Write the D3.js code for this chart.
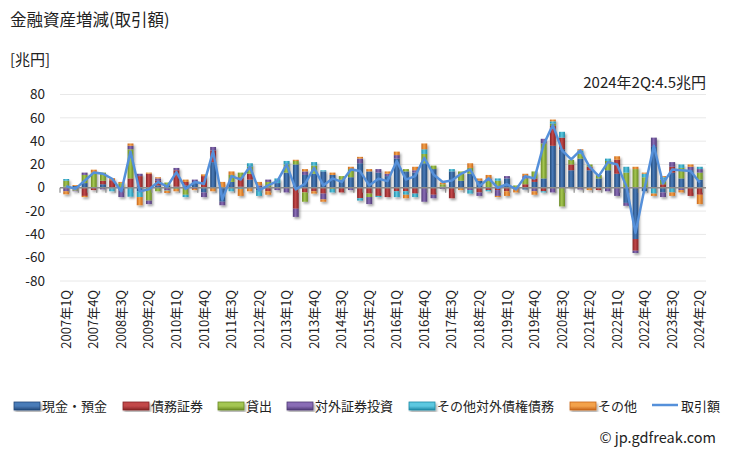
<!DOCTYPE html>
<html>
<head>
<meta charset="utf-8">
<script src="https://d3js.org/d3.v7.min.js"></script>
<style>
  body { margin: 0; background: #fff; }
  svg { font-family: "Noto Sans CJK JP", sans-serif; }
</style>
</head>
<body>
<svg id="chart"></svg>
<script>
const quarters = [
  "2007年1Q","2007年2Q","2007年3Q","2007年4Q","2008年1Q","2008年2Q","2008年3Q","2008年4Q",
  "2009年1Q","2009年2Q","2009年3Q","2009年4Q","2010年1Q","2010年2Q","2010年3Q","2010年4Q",
  "2011年1Q","2011年2Q","2011年3Q","2011年4Q","2012年1Q","2012年2Q","2012年3Q","2012年4Q",
  "2013年1Q","2013年2Q","2013年3Q","2013年4Q","2014年1Q","2014年2Q","2014年3Q","2014年4Q",
  "2015年1Q","2015年2Q","2015年3Q","2015年4Q","2016年1Q","2016年2Q","2016年3Q","2016年4Q",
  "2017年1Q","2017年2Q","2017年3Q","2017年4Q","2018年1Q","2018年2Q","2018年3Q","2018年4Q",
  "2019年1Q","2019年2Q","2019年3Q","2019年4Q","2020年1Q","2020年2Q","2020年3Q","2020年4Q",
  "2021年1Q","2021年2Q","2021年3Q","2021年4Q","2022年1Q","2022年2Q","2022年3Q","2022年4Q",
  "2023年1Q","2023年2Q","2023年3Q","2023年4Q","2024年1Q","2024年2Q"
];

// 兆円
const cash = [1,1.5,4,0,3,0,-2,0, -3,0,2,1.5,1,2,4,-4, 22,-12,5,1,7,-2,0,4,
  13,20,11,12,14,11,7,9, 21,14,13,10,25,14,13,21, 16,1,14,6,12,6,0,0,
  8,0,-1.5,5,8,36,33,15, 25,15,8,15,12,-13,-44,-3, 35,-4,13,8,15,7];
const debt = [0,-1.5,-7,-2,3,6.5,0,8, 10,12,4,0,14,3,-1,10, 10,0,0,8,5,0,-3,0,
  0,-18,-4,-3,-5,0,-4,0, -9,-5,-7,-8,-3,-3,-5,0, -6,0,-9,0,0,-4,-2,-2,
  -3,0,3,3,-3,17,10,5, 0,3,-2,0,12,0,-10,0, 0,3,5,0,-7,-6];
const loans = [5,-1,7,13,7,0,4,25, 0,-11,-3,3,-1,-6,0,0, 0,0,6,4,6,0,5,0,
  7,3,-8,7,0,-1,3,7, 0,-3,0,0,0,2,0,8, 3,2,0,8,5,0,6,6,
  0,2,5,6,30,2,-16,4, 4,2,3,8,0,13,16,9, 0,4,0,9,0,6];
const foreignSec = [-3,-0.5,2,0,-1.4,-0.5,-6,3, 2,-3,2,-2,2,0,3,-4, 3,-3,0,0,0,2,2,-2,
  -4,-7,3,0,-5,0,0,-2, 4,-6,3,2,3,0,2,-12, -3,-1,0,0,-2,-3,2,-5,
  2,-1,2,-3,4,-4,0,0, -1.5,0,0,-3,-7,-2.5,-2,0, 8,-4,4,-2,3,3];
const otherForeign = [1.5,0,0,0,0,-2.5,0,-7.7, -5,0,0,-0.5,0,-2,0,0, 0,0,-3,-1,3,-5,0,4,
  3,0,0,3,1,-3,0,0, -2,0,-1,0,-5,-3,-3,4, 0,0,2,0,-3,0,-1,2,
  0,0,0,0,-1,2,5,0, 3,0,0,2,0,5,0,3, -5,2,-4,3,0,2];
const other = [-2.6,0.8,-1,2.5,0,1.7,1,2, -7,1,1,-2,-2,2,-1,1.5, -3,5,3,-6,-3,3,-3,0,
  0,1,2,-2,-2,2,0,2, 1.5,2,0,2,3,-3,3,5, 0,1.5,0,-2,4,2,3,-1,
  -4,-3,2,-3,0,1.5,0,0, 1,-2,0,0,3,0,2,1, -2,1,-3,-2,2,-8];
const total = [1.4,-1,6,13,12,7.7,-3,31, -3,-1.4,5,1,13.4,-1,5,3.4, 31.4,-10,10,7,18,-2.3,2,5.7,
  20,-1.4,3.4,17,2,8,5,15.7, 14.3,2,7.7,5.7,23,7,10,25.7, 11.4,5,6.3,12,15.7,1.4,8,0,
  3,-1.4,10,8,37,54,32,24.3, 32,18,10,22,20,1.4,-38.6,0, 36,3.7,15.7,15,14.3,4.5];

const seriesNames = ["現金・預金","債務証券","貸出","対外証券投資","その他対外債権債務","その他"];
const seriesValues = [cash, debt, loans, foreignSec, otherForeign, other];
const seriesColors = [
  ["#22497a","#4a7bb8"], ["#852325","#c2484a"], ["#6a8a24","#a4c652"],
  ["#4f3a76","#8a6db6"], ["#1f8aa6","#5cc8e0"], ["#c8661a","#f3a24c"]
];
const yTicks = [80,60,40,20,0,-20,-40,-60,-80];

const width = 729, height = 450;
const marginLeft = 60, marginRight = 23, plotTop = 94.5, plotBottom = 281;

const svg = d3.select("#chart").attr("width", width).attr("height", height);
const defs = svg.append("defs");

seriesColors.forEach((c, i) => {
  const g = defs.append("linearGradient").attr("id", "grad" + i)
    .attr("x1", "0").attr("x2", "1").attr("y1", "0").attr("y2", "0");
  g.append("stop").attr("offset", "0%").attr("stop-color", c[0]);
  g.append("stop").attr("offset", "45%").attr("stop-color", c[1]);
  g.append("stop").attr("offset", "100%").attr("stop-color", c[0]);
  const lg = defs.append("linearGradient").attr("id", "lgrad" + i)
    .attr("x1", "0").attr("x2", "0").attr("y1", "0").attr("y2", "1");
  lg.append("stop").attr("offset", "0%").attr("stop-color", c[1]);
  lg.append("stop").attr("offset", "50%").attr("stop-color", c[1]);
  lg.append("stop").attr("offset", "100%").attr("stop-color", c[0]);
});
defs.append("filter").attr("id", "shadow")
  .attr("x", "-50%").attr("y", "-20%").attr("width", "200%").attr("height", "140%")
  .append("feDropShadow").attr("dx", 1.5).attr("dy", 2).attr("stdDeviation", 1.3)
  .attr("flood-color", "#000").attr("flood-opacity", 0.35);

const x = d3.scaleBand().domain(quarters).range([marginLeft, width - marginRight]).padding(0.36);
const y = d3.scaleLinear().domain([-80, 80]).range([plotBottom, plotTop]);

// gridlines
svg.append("g").selectAll("line").data(yTicks).join("line")
  .attr("x1", marginLeft).attr("x2", width - marginRight)
  .attr("y1", d => y(d)).attr("y2", d => y(d))
  .attr("stroke", "#e8e8e8").attr("stroke-width", 1);

// y labels
svg.append("g").selectAll("text").data(yTicks).join("text")
  .attr("x", 45).attr("y", d => y(d)).attr("dy", "0.35em")
  .attr("text-anchor", "end").attr("font-size", 13.5).attr("fill", "#222")
  .text(d => d);

// stacked bars
const table = quarters.map((q, i) => {
  const row = { q };
  seriesNames.forEach((n, k) => row[n] = seriesValues[k][i]);
  return row;
});
const stack = d3.stack().keys(seriesNames).offset(d3.stackOffsetDiverging)(table);

svg.append("g").attr("filter", "url(#shadow)")
  .selectAll("g").data(stack).join("g")
  .attr("fill", (d, i) => `url(#grad${i})`)
  .selectAll("rect").data(d => d).join("rect")
  .attr("x", d => x(d.data.q))
  .attr("width", x.bandwidth())
  .attr("y", d => y(Math.max(d[0], d[1])))
  .attr("height", d => Math.abs(y(d[0]) - y(d[1])));

// zero axis with ticks
const axisG = svg.append("g").attr("transform", `translate(0,${y(0)})`);
axisG.append("line").attr("x1", marginLeft).attr("x2", width - marginRight)
  .attr("stroke", "#8c8c8c").attr("stroke-width", 1.5);
axisG.selectAll(".tk").data(quarters.concat(["end"])).join("line")
  .attr("class", "tk")
  .attr("x1", (d, i) => marginLeft + i * x.step()).attr("x2", (d, i) => marginLeft + i * x.step())
  .attr("y1", 0).attr("y2", 5).attr("stroke", "#8c8c8c").attr("stroke-width", 1.2);

// x labels every 3 quarters
svg.append("g").selectAll("text").data(quarters.filter((q, i) => i % 3 === 0)).join("text")
  .attr("transform", d => `translate(${x(d) + x.bandwidth() / 2},290) rotate(-90)`)
  .attr("dy", "0.35em").attr("text-anchor", "end")
  .attr("font-size", 13).attr("fill", "#222")
  .text(d => d);

// total line
svg.append("path").datum(total)
  .attr("fill", "none").attr("stroke", "#5590da").attr("stroke-width", 2.5)
  .attr("stroke-linejoin", "round")
  .attr("d", d3.line().x((d, i) => x(quarters[i]) + x.bandwidth() / 2).y(d => y(d)));

// texts
svg.append("text").attr("x", 10).attr("y", 26).attr("font-size", 16.5).attr("fill", "#222")
  .text("金融資産増減(取引額)");
svg.append("text").attr("x", 10).attr("y", 65).attr("font-size", 15).attr("fill", "#222")
  .text("[兆円]");
svg.append("text").attr("x", 706).attr("y", 88).attr("text-anchor", "end")
  .attr("font-size", 15).attr("fill", "#222")
  .text("2024年2Q:" + total[total.length - 1] + "兆円");
svg.append("text").attr("x", 716).attr("y", 443).attr("text-anchor", "end")
  .attr("font-size", 14.5).attr("fill", "#222")
  .text("© jp.gdfreak.com");

// legend
const legendX = [14, 123, 218, 287, 409, 570];
const leg = svg.append("g").attr("font-size", 13).attr("fill", "#222");
seriesNames.forEach((n, i) => {
  leg.append("rect").attr("x", legendX[i]).attr("y", 402).attr("width", 26).attr("height", 8)
    .attr("fill", `url(#lgrad${i})`).attr("stroke", seriesColors[i][0]).attr("stroke-width", 0.8)
    .attr("filter", "url(#shadow)");
  leg.append("text").attr("x", legendX[i] + 28).attr("y", 406).attr("dy", "0.35em").text(n);
});
leg.append("line").attr("x1", 652).attr("x2", 678).attr("y1", 405).attr("y2", 405)
  .attr("stroke", "#5590da").attr("stroke-width", 2.5);
leg.append("text").attr("x", 681).attr("y", 406).attr("dy", "0.35em").text("取引額");
</script>
</body>
</html>
